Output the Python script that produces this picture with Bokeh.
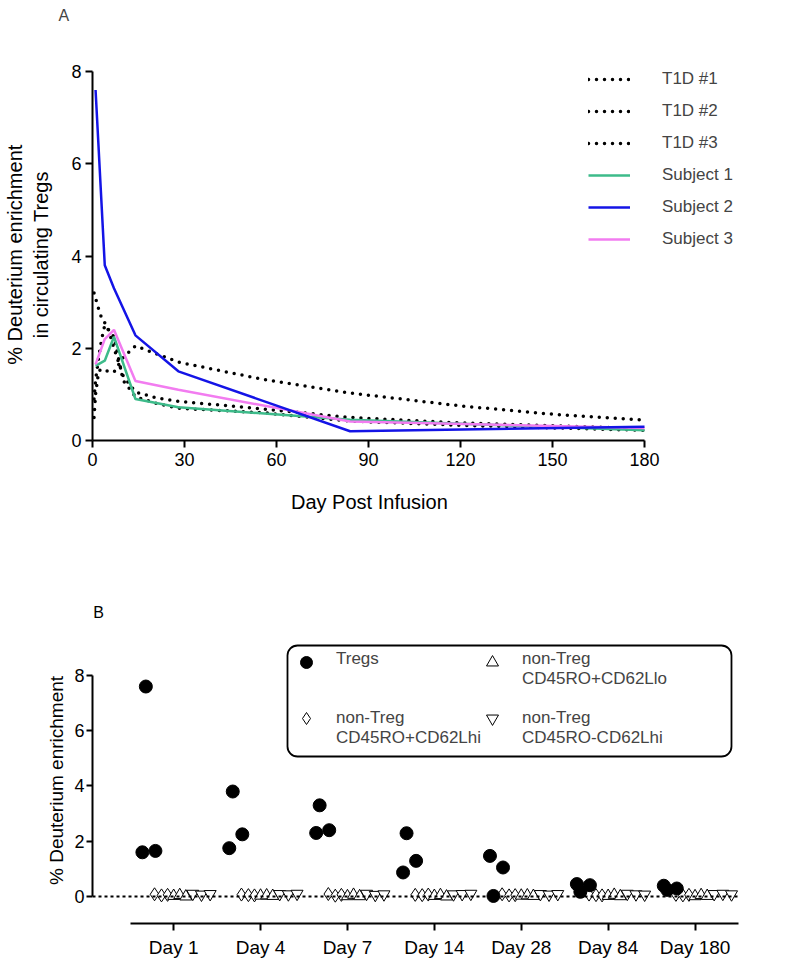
from bokeh.plotting import figure
from bokeh.models import (FixedTicker, Legend, LegendItem, Label, Range1d, Span, BoxAnnotation)
from bokeh.layouts import column
from bokeh.embed import file_html
from bokeh.resources import INLINE

FONT = "Liberation Sans"
NB = "\u00a0"

# ---------------- Panel A data ----------------
t1d1_days = [0.5, 1, 2, 3, 5, 7, 10, 14, 28, 56, 84, 120, 150, 180]
t1d1_vals = [0.5, 1.0, 1.5, 1.55, 1.5, 1.48, 1.8, 2.05, 1.7, 1.32, 1.03, 0.75, 0.57, 0.44]
t1d2_days = [0.5, 2, 3, 5, 7, 10, 14, 21, 28, 56, 84, 120, 180]
t1d2_vals = [3.2, 2.85, 2.65, 2.45, 2.0, 1.4, 1.05, 0.92, 0.85, 0.68, 0.5, 0.38, 0.26]
t1d3_days = [0.5, 1, 2, 3, 4, 7, 10, 14, 21, 28, 56, 84, 120, 180]
t1d3_vals = [0.9, 1.3, 1.8, 2.2, 2.5, 2.25, 1.3, 0.95, 0.8, 0.7, 0.6, 0.42, 0.33, 0.22]

subject_days = [1, 4, 7, 14, 28, 84, 180]
subject1 = [1.62, 1.73, 2.25, 0.9, 0.72, 0.45, 0.22]
subject2 = [7.6, 3.8, 3.3, 2.28, 1.5, 0.2, 0.3]
subject3 = [1.65, 2.2, 2.4, 1.29, 1.1, 0.41, 0.27]

x_ticks_a = [0, 30, 60, 90, 120, 150, 180]
y_ticks = [0, 2, 4, 6, 8]

# ---------------- Panel B data ----------------
day_labels = ["Day 1", "Day 4", "Day 7", "Day 14", "Day 28", "Day 84", "Day 180"]
tregs_r1 = [1.6, 1.75, 2.3, 0.87, 1.47, 0.45, 0.39]
tregs_r2 = [7.6, 3.8, 3.3, 2.29, 0.02, 0.17, 0.24]
tregs_r3 = [1.65, 2.25, 2.4, 1.29, 1.05, 0.41, 0.29]
hi_r1 = [0.08, 0.07, 0.09, 0.06, 0.08, 0.07, 0.06]
hi_r2 = [0.04, 0.05, 0.03, 0.05, 0.04, 0.05, 0.04]
hi_r3 = [0.06, 0.04, 0.06, 0.07, 0.05, 0.04, 0.06]
lo_r1 = [0.02, 0.03, 0.01, 0.02, 0.03, 0.02, 0.01]
lo_r2 = [0.05, 0.04, 0.06, 0.05, 0.04, 0.06, 0.05]
lo_r3 = [0.0, 0.02, 0.01, 0.0, 0.02, 0.01, 0.02]
neg_r1 = [0.1, 0.09, 0.1, 0.08, 0.09, 0.1, 0.09]
neg_r2 = [0.07, 0.08, 0.06, 0.09, 0.07, 0.08, 0.1]
neg_r3 = [0.09, 0.1, 0.08, 0.1, 0.09, 0.07, 0.08]


def style_axis(ax, label_size="18px"):
    ax.axis_line_width = 2
    ax.axis_line_color = "black"
    ax.major_tick_line_width = 2
    ax.major_tick_line_color = "black"
    ax.major_tick_out = 7
    ax.major_tick_in = 0
    ax.minor_tick_line_color = None
    ax.major_label_text_font = FONT
    ax.major_label_text_font_size = label_size
    ax.major_label_text_color = "black"
    ax.axis_label_text_font = FONT
    ax.axis_label_text_font_style = "normal"
    ax.axis_label_text_font_size = "20px"
    ax.axis_label_text_color = "black"


# ================= Panel A =================
A_PX_PER_DAY = 552 / 180.0
pA = figure(frame_width=676, frame_height=416,
            x_range=Range1d(0, 676 / A_PX_PER_DAY), y_range=Range1d(0, 8 + 47 / 46.1),
            min_border_left=92, min_border_top=24, min_border_right=16,
            min_border_bottom=120,
            output_backend="svg", toolbar_location=None)
pA.outline_line_color = None
pA.grid.grid_line_color = None
pA.title.text = "A"
pA.title.text_font = FONT
pA.title.text_font_size = "16px"
pA.title.text_font_style = "normal"
pA.title.align = "left"
pA.title.offset = -34
pA.title.standoff = 2
style_axis(pA.xaxis[0])
style_axis(pA.yaxis[0])
pA.xaxis[0].ticker = FixedTicker(ticks=x_ticks_a)
pA.xaxis[0].bounds = (0, 180)
pA.yaxis[0].ticker = FixedTicker(ticks=y_ticks)
pA.yaxis[0].bounds = (0, 8)
# trailing no-break spaces keep the titles centred on the drawn axis span
pA.xaxis[0].axis_label = "Day Post Infusion" + NB * 22
pA.xaxis[0].axis_label_standoff = 22
pA.yaxis[0].axis_label = ("% Deuterium enrichment" + NB * 8 + "\n"
                          + "in circulating Tregs" + NB * 8)
pA.yaxis[0].axis_label_standoff = 16
pA.yaxis[0].major_label_standoff = 4

dot_kw = dict(line_color="black", line_width=3.5, line_dash="0 8", line_cap="round")
r_t1 = pA.line(t1d1_days, t1d1_vals, **dot_kw)
r_t2 = pA.line(t1d2_days, t1d2_vals, **dot_kw)
r_t3 = pA.line(t1d3_days, t1d3_vals, **dot_kw)
r_s1 = pA.line(subject_days, subject1, line_color="#3dbb8a", line_width=2.5)
r_s3 = pA.line(subject_days, subject3, line_color="#f27cf0", line_width=2.5)
r_s2 = pA.line(subject_days, subject2, line_color="#1414e6", line_width=2.5)

legA = Legend(items=[
    LegendItem(label="T1D #1", renderers=[r_t1]),
    LegendItem(label="T1D #2", renderers=[r_t2]),
    LegendItem(label="T1D #3", renderers=[r_t3]),
    LegendItem(label="Subject 1", renderers=[r_s1]),
    LegendItem(label="Subject 2", renderers=[r_s2]),
    LegendItem(label="Subject 3", renderers=[r_s3]),
], location=(496, 191))
legA.border_line_color = None
legA.background_fill_alpha = 0
legA.label_text_font = FONT
legA.label_text_font_size = "17px"
legA.glyph_width = 42
legA.glyph_height = 20
legA.label_height = 20
legA.spacing = 12
legA.padding = 0
legA.margin = 0
legA.label_standoff = 32
pA.add_layout(legA)

# ================= Panel B =================
B_PX_PER_CAT = 86.9
B_PX_PER_UNIT = 27.63
xs_index = list(range(len(day_labels)))
pB = figure(frame_width=646, frame_height=323,
            x_range=Range1d(-0.934, 6.5), y_range=Range1d(-0.977, 9.99 + 20 / B_PX_PER_UNIT),
            min_border_left=45, min_border_top=40, min_border_right=93,
            min_border_bottom=39,
            output_backend="svg", toolbar_location=None)
pB.outline_line_color = None
pB.grid.grid_line_color = None
style_axis(pB.xaxis[0], "19px")
style_axis(pB.yaxis[0])
pB.xaxis[0].ticker = FixedTicker(ticks=xs_index)
pB.xaxis[0].major_label_overrides = {i: lab for i, lab in enumerate(day_labels)}
pB.xaxis[0].bounds = (-0.5, 6.5)
pB.xaxis[0].major_label_standoff = 6
pB.yaxis[0].ticker = FixedTicker(ticks=y_ticks)
pB.yaxis[0].bounds = (0, 8)
pB.yaxis[0].major_tick_out = 6
pB.yaxis[0].major_label_standoff = 2
pB.yaxis[0].axis_label = "% Deuterium enrichment" + NB * 7
pB.yaxis[0].axis_label_standoff = 4
pB.yaxis[0].axis_label_text_font_size = "19px"

pB.add_layout(Span(location=0, dimension="width", line_color="black",
                   line_width=2, line_dash="3 3"))


def shifted(off):
    return [i + off for i in xs_index]


def draw_group(arrays, offsets, marker, size, fill):
    rs = []
    for arr, off in zip(arrays, offsets):
        rs.append(pB.scatter(shifted(off), arr, marker=marker, size=size,
                             fill_color=fill, line_color="black", line_width=1))
    return rs


r_hi = draw_group([hi_r1, hi_r2, hi_r3], [-0.22, -0.14, -0.07], "diamond", 13, "white")
r_lo = draw_group([lo_r1, lo_r2, lo_r3], [0.0, 0.07, 0.14], "triangle", 12, "white")
r_neg = draw_group([neg_r1, neg_r2, neg_r3], [0.22, 0.32, 0.42], "inverted_triangle", 12, "white")
r_tr = draw_group([tregs_r1, tregs_r2, tregs_r3], [-0.36, -0.32, -0.21], "circle", 13, "black")
r_none = pB.scatter(x=[], y=[], marker="circle", fill_alpha=0, line_alpha=0)


# legend frame (page px 248..692 x 653..764 -> data units)
def px_to_x(px):
    return -0.934 + (px - 53) / B_PX_PER_CAT


def py_to_y(py):
    return (904 - py) / B_PX_PER_UNIT


box = BoxAnnotation(left=px_to_x(248), right=px_to_x(692), top=py_to_y(653), bottom=py_to_y(764),
                    fill_color="white", fill_alpha=1, line_color="black", line_alpha=1,
                    line_width=1.8, level="annotation")
if "border_radius" in BoxAnnotation.properties():
    box.border_radius = 10
pB.add_layout(box)

# legend markers (2 x 2 grid)
legB_marks = Legend(items=[
    LegendItem(label=" ", renderers=[r_tr[0]]),
    LegendItem(label=" ", renderers=[r_hi[0]]),
    LegendItem(label=" ", renderers=[r_lo[0]]),
    LegendItem(label=" ", renderers=[r_neg[0]]),
], location=(199, 190), nrows=2)
legB_marks.border_line_color = None
legB_marks.background_fill_alpha = 0
legB_marks.glyph_width = 30
legB_marks.glyph_height = 30
legB_marks.label_height = 30
legB_marks.label_width = 130
legB_marks.label_standoff = 0
legB_marks.spacing = 26
legB_marks.padding = 0
legB_marks.margin = 0
legB_marks.label_text_font = FONT
legB_marks.label_text_font_size = "17px"
pB.add_layout(legB_marks)

# legend texts (2 columns x 5 lines)
legB_text = Legend(items=[
    LegendItem(label="Tregs", renderers=[r_none]),
    LegendItem(label=" ", renderers=[r_none]),
    LegendItem(label=" ", renderers=[r_none]),
    LegendItem(label="non-Treg", renderers=[r_none]),
    LegendItem(label="CD45RO+CD62Lhi", renderers=[r_none]),
    LegendItem(label="non-Treg", renderers=[r_none]),
    LegendItem(label="CD45RO+CD62Llo", renderers=[r_none]),
    LegendItem(label=" ", renderers=[r_none]),
    LegendItem(label="non-Treg", renderers=[r_none]),
    LegendItem(label="CD45RO-CD62Lhi", renderers=[r_none]),
], location=(243, 175), nrows=5)
legB_text.border_line_color = None
legB_text.background_fill_alpha = 0
legB_text.label_text_font = FONT
legB_text.label_text_font_size = "17px"
legB_text.glyph_width = 1
legB_text.glyph_height = 19
legB_text.label_height = 19
legB_text.label_width = 185
legB_text.label_standoff = 0
legB_text.spacing = 0
legB_text.padding = 0
legB_text.margin = 0
pB.add_layout(legB_text)

pB.add_layout(Label(x=px_to_x(59), y=py_to_y(620), text="B", text_font=FONT,
                    text_font_size="16px", text_align="center", text_baseline="middle",
                    text_color="black"))

page = column(pA, pB, spacing=0)
open("out.html", "w").write(file_html(page, INLINE))
